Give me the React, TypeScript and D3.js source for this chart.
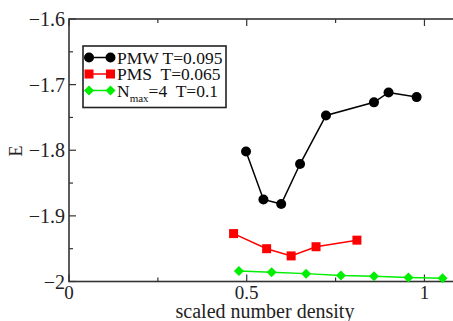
import React from "react";
import * as d3 from "d3";

// scaled number density vs E
const pmwX = [0.498, 0.547, 0.597, 0.65, 0.723, 0.858, 0.899, 0.978];
const pmwE = [-1.802, -1.875, -1.882, -1.821, -1.747, -1.727, -1.712, -1.719];

const pmsX = [0.463, 0.556, 0.625, 0.695, 0.81];
const pmsE = [-1.927, -1.95, -1.961, -1.947, -1.937];

const nmaxX = [0.478, 0.57, 0.667, 0.765, 0.858, 0.955, 1.051];
const nmaxE = [-1.984, -1.986, -1.988, -1.991, -1.992, -1.994, -1.995];

const xMajor = [0, 0.5, 1];
const xMinor = [0.25, 0.75];
const yMajor = [-2, -1.9, -1.8, -1.7, -1.6];
const yMinor = [-1.95, -1.85, -1.75, -1.65];

const serif = { fontFamily: '"Liberation Serif", "Times New Roman", "DejaVu Serif", serif' };

function App() {
  const width = 453;
  const height = 321;
  const marginLeft = 69;
  const marginTop = 19;
  const plotRight = 460;
  const plotBottom = 281.5;

  const x = d3.scaleLinear().domain([0, 1.1]).range([marginLeft, plotRight]);
  const y = d3.scaleLinear().domain([-2, -1.6]).range([plotBottom, marginTop]);

  const line = d3.line<[number, number]>()
    .x(d => x(d[0]))
    .y(d => y(d[1]));

  const pmw = pmwX.map((v, i) => [v, pmwE[i]] as [number, number]);
  const pms = pmsX.map((v, i) => [v, pmsE[i]] as [number, number]);
  const nmax = nmaxX.map((v, i) => [v, nmaxE[i]] as [number, number]);

  const axisColor = "#333";
  const major = 7;
  const minor = 4;

  const circle = (cx: number, cy: number, k: string) => (
    <circle key={k} cx={cx} cy={cy} r={5} fill="#000" />
  );
  const square = (cx: number, cy: number, k: string) => (
    <rect key={k} x={cx - 4.5} y={cy - 4.5} width={9} height={9} fill="#ff0000" />
  );
  const diamond = (cx: number, cy: number, k: string) => (
    <path key={k} d={`M${cx},${cy - 5}L${cx + 5},${cy}L${cx},${cy + 5}L${cx - 5},${cy}Z`} fill="#00ee00" />
  );

  const legendRows = [
    { color: "#000", marker: circle, y: 57.5 },
    { color: "#ff0000", marker: square, y: 74 },
    { color: "#00ee00", marker: diamond, y: 90.5 },
  ];

  return (
    <svg width={width} height={height} style={{ position: "absolute", left: 0, top: 0, background: "#fff" }}>
      {/* frame */}
      <rect x={marginLeft} y={marginTop} width={plotRight - marginLeft} height={plotBottom - marginTop}
        fill="none" stroke={axisColor} strokeWidth={1.6} />

      {/* x ticks, bottom and top, inward */}
      {xMajor.map(t => (
        <g key={"xM" + t}>
          <line x1={x(t)} x2={x(t)} y1={plotBottom} y2={plotBottom - major} stroke={axisColor} strokeWidth={1.2} />
          <line x1={x(t)} x2={x(t)} y1={marginTop} y2={marginTop + major} stroke={axisColor} strokeWidth={1.2} />
          <text x={x(t)} y={299} textAnchor="middle" style={serif} fontSize={19} fill="#222">{t}</text>
        </g>
      ))}
      {xMinor.map(t => (
        <g key={"xm" + t}>
          <line x1={x(t)} x2={x(t)} y1={plotBottom} y2={plotBottom - minor} stroke={axisColor} strokeWidth={1.2} />
          <line x1={x(t)} x2={x(t)} y1={marginTop} y2={marginTop + minor} stroke={axisColor} strokeWidth={1.2} />
        </g>
      ))}

      {/* y ticks, left and right, inward */}
      {yMajor.map(t => (
        <g key={"yM" + t}>
          <line x1={marginLeft} x2={marginLeft + major} y1={y(t)} y2={y(t)} stroke={axisColor} strokeWidth={1.2} />
          <line x1={plotRight} x2={plotRight - major} y1={y(t)} y2={y(t)} stroke={axisColor} strokeWidth={1.2} />
          <text x={65} y={y(t) + 7} textAnchor="end" style={serif} fontSize={20} fill="#222">{d3.format("")(t)}</text>
        </g>
      ))}
      {yMinor.map(t => (
        <g key={"ym" + t}>
          <line x1={marginLeft} x2={marginLeft + minor} y1={y(t)} y2={y(t)} stroke={axisColor} strokeWidth={1.2} />
          <line x1={plotRight} x2={plotRight - minor} y1={y(t)} y2={y(t)} stroke={axisColor} strokeWidth={1.2} />
        </g>
      ))}

      {/* axis titles */}
      <text x={265} y={318} textAnchor="middle" style={serif} fontSize={20} fill="#222">
        scaled number density
      </text>
      <text transform="translate(22,151) rotate(-90)" textAnchor="middle" style={serif} fontSize={18} fill="#222">E</text>

      {/* series */}
      <path d={line(nmax) ?? ""} fill="none" stroke="#00ee00" strokeWidth={1.5} />
      {nmax.map((d, i) => diamond(x(d[0]), y(d[1]), "n" + i))}
      <path d={line(pms) ?? ""} fill="none" stroke="#ff0000" strokeWidth={1.5} />
      {pms.map((d, i) => square(x(d[0]), y(d[1]), "s" + i))}
      <path d={line(pmw) ?? ""} fill="none" stroke="#000" strokeWidth={1.5} />
      {pmw.map((d, i) => circle(x(d[0]), y(d[1]), "w" + i))}

      {/* legend */}
      <rect x={83} y={46} width={143} height={61.5} fill="#fff" stroke="#222" strokeWidth={1.6} />
      {legendRows.map((r, i) => (
        <g key={"lg" + i}>
          <line x1={89} x2={110} y1={r.y} y2={r.y} stroke={r.color} strokeWidth={1.5} />
          {r.marker(89, r.y, "a" + i)}
          {r.marker(110.5, r.y, "b" + i)}
        </g>
      ))}
      <text x={117} y={63.5} style={serif} fontSize={17.5} fill="#111">PMW T=0.095</text>
      <text x={117} y={80} style={{ ...serif, whiteSpace: "pre" }} fontSize={17.5} fill="#111">PMS  T=0.065</text>
      <text x={117} y={96.5} style={{ ...serif, whiteSpace: "pre" }} fontSize={17.5} fill="#111">
        N<tspan fontSize={11} dy={5}>max</tspan><tspan dy={-5}>=4  T=0.1</tspan>
      </text>
    </svg>
  );
}

export default App;
